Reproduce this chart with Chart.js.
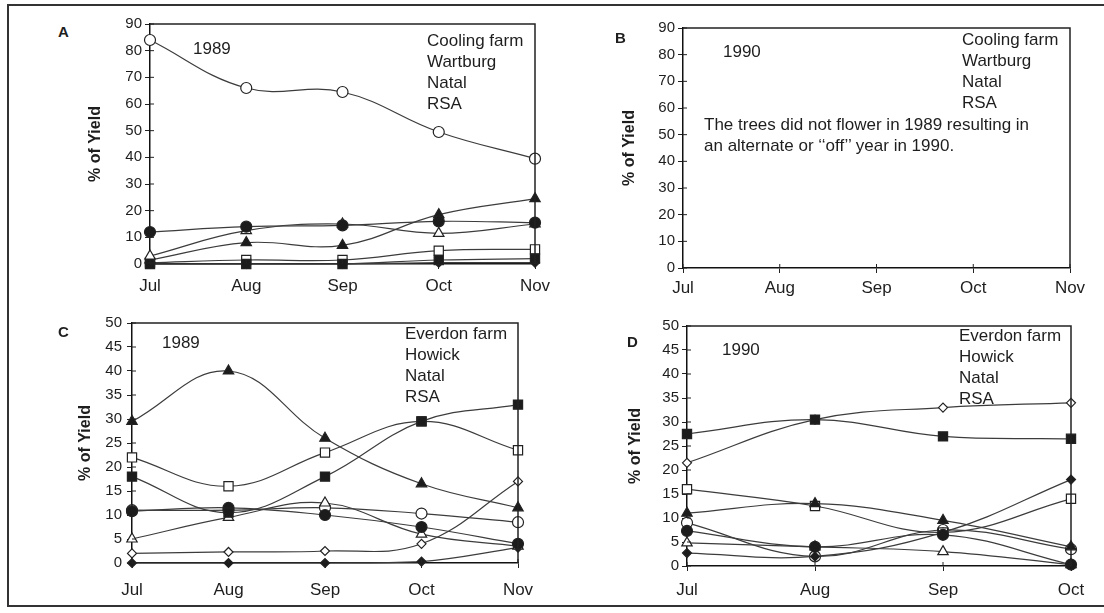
<!DOCTYPE html>
<html>
<head>
<meta charset="utf-8">
<title>% of Yield</title>
<script src="https://cdn.jsdelivr.net/npm/chart.js@4.4.0/dist/chart.umd.min.js"></script>
<style>
    body { margin: 0; background: #fff; font-family: "Liberation Sans", Arial, sans-serif; color: #1e1e1e; }
    #page { position: relative; width: 1104px; height: 613px; overflow: hidden; }
    #frame { position: absolute; left: 7px; top: 4px; width: 1120px; height: 603px; border: 2px solid #333; box-sizing: border-box; }
    canvas { position: absolute; }
    .txt { position: absolute; font-size: 17px; line-height: 21px; white-space: nowrap; }
    .letter { position: absolute; font-size: 15px; font-weight: bold; }
</style>
</head>
<body>
<div id="page">
    <div id="frame"></div>
    <canvas id="chartA"></canvas>
    <canvas id="chartB"></canvas>
    <canvas id="chartC"></canvas>
    <canvas id="chartD"></canvas>

    <div class="letter" style="left:58px; top:23px;">A</div>
    <div class="txt" style="left:193px; top:38px;">1989</div>
    <div class="txt" style="left:427px; top:30px;">Cooling farm<br>Wartburg<br>Natal<br>RSA</div>

    <div class="letter" style="left:615px; top:29px;">B</div>
    <div class="txt" style="left:723px; top:41px;">1990</div>
    <div class="txt" style="left:962px; top:29px;">Cooling farm<br>Wartburg<br>Natal<br>RSA</div>
    <div class="txt" style="left:704px; top:114px;">The trees did not flower in 1989 resulting in<br>an alternate or ‘‘off’’ year in 1990.</div>

    <div class="letter" style="left:58px; top:323px;">C</div>
    <div class="txt" style="left:162px; top:332px;">1989</div>
    <div class="txt" style="left:405px; top:323px;">Everdon farm<br>Howick<br>Natal<br>RSA</div>

    <div class="letter" style="left:627px; top:333px;">D</div>
    <div class="txt" style="left:722px; top:339px;">1990</div>
    <div class="txt" style="left:959px; top:325px;">Everdon farm<br>Howick<br>Natal<br>RSA</div>
</div>

<script>
// Monate (x-Achse)
const months = ['Jul', 'Aug', 'Sep', 'Oct', 'Nov'];
const monthsD = ['Jul', 'Aug', 'Sep', 'Oct'];

// y-Achsen Ticks
const yTicksAB = [0, 10, 20, 30, 40, 50, 60, 70, 80, 90];
const yTicksCD = [0, 5, 10, 15, 20, 25, 30, 35, 40, 45, 50];

// A: Cooling farm 1989
const a_openCircle     = [84, 66, 64.5, 49.5, 39.5];
const a_filledCircle   = [12, 14, 14.5, 16, 15.5];
const a_openTriangle   = [3, 12.5, 15, 11.5, 15];
const a_filledTriangle = [1.5, 8, 7, 18.5, 24.5];
const a_openSquare     = [0.5, 1.5, 1.5, 5, 5.5];
const a_filledSquare   = [0, 0, 0, 1.5, 2];
const a_filledDiamond  = [0, 0, 0, 0.5, 0.5];

// C: Everdon farm 1989
const c_filledTriangle = [29.5, 40, 26, 16.5, 11.5];
const c_openSquare     = [22, 16, 23, 29.5, 23.5];
const c_filledSquare   = [18, 10.5, 18, 29.5, 33];
const c_filledCircle   = [10.8, 11.5, 10, 7.5, 4];
const c_openTriangle   = [5, 9.5, 12.5, 6, 3.5];
const c_openCircle     = [11, 11, 11.5, 10.3, 8.5];
const c_openDiamond    = [2, 2.3, 2.5, 4, 17];
const c_filledDiamond  = [0, 0, 0, 0.3, 3.2];

// D: Everdon farm 1990
const d_openDiamond    = [21.5, 30.5, 33, 34];
const d_filledSquare   = [27.5, 30.5, 27, 26.5];
const d_openSquare     = [16, 12.5, 7, 14];
const d_filledTriangle = [11, 13, 9.5, 4];
const d_openCircle     = [9, 2, 7.5, 3.5];
const d_filledCircle   = [7.3, 4, 6.5, 0.3];
const d_openTriangle   = [4.8, 4, 3, 0.3];
const d_filledDiamond  = [2.7, 2, 7, 18];

// Marker-Groessen je Form
const radius = { circle: 5.5, triangle: 6, rect: 6.5, rectRot: 4.5 };

function series(data, shape, filled) {
    return {
        data: data,
        pointStyle: shape,
        pointRadius: radius[shape],
        pointHoverRadius: radius[shape],
        pointBackgroundColor: filled ? '#1c1c1c' : '#fff',
        pointBorderColor: '#222',
        pointBorderWidth: 1.2,
        borderColor: '#3c3c3c',
        borderWidth: 1.2,
        tension: 0.4,
        clip: false
    };
}

// Rahmen oben/rechts + innere Haelfte der Tick-Striche
const boxPlugin = {
    id: 'box',
    afterDraw(chart) {
        const ctx = chart.ctx;
        const a = chart.chartArea;
        const x = chart.scales.x;
        const y = chart.scales.y;
        ctx.save();
        ctx.strokeStyle = '#222';
        ctx.lineWidth = 1.5;
        ctx.beginPath();
        ctx.moveTo(a.left, a.top);
        ctx.lineTo(a.right, a.top);
        ctx.lineTo(a.right, a.bottom);
        ctx.stroke();
        ctx.lineWidth = 1;
        ctx.beginPath();
        y.ticks.forEach((t, i) => {
            const py = y.getPixelForTick(i);
            ctx.moveTo(a.left, py);
            ctx.lineTo(a.left + 4, py);
        });
        x.ticks.forEach((t, i) => {
            const px = x.getPixelForTick(i);
            ctx.moveTo(px, a.bottom);
            ctx.lineTo(px, a.bottom - 4);
        });
        ctx.stroke();
        ctx.restore();
    }
};

function makePanel(id, p) {
    const canvas = document.getElementById(id);
    const left = p.titleX - 20;
    const top = p.t - 14;
    const width = p.r + 28 - left;
    const height = p.b + 45 - top;
    canvas.style.left = left + 'px';
    canvas.style.top = top + 'px';
    canvas.width = width;
    canvas.height = height;

    new Chart(canvas, {
        type: 'line',
        data: { labels: p.labels, datasets: p.datasets },
        options: {
            responsive: false,
            animation: false,
            events: [],
            layout: { padding: { top: 14, right: 28, left: 0, bottom: 0 } },
            plugins: { legend: { display: false }, tooltip: { enabled: false } },
            scales: {
                x: {
                    offset: false,
                    grid: { drawOnChartArea: false, tickLength: 5, color: '#222' },
                    border: { color: '#111', width: 1.5 },
                    ticks: { font: { family: 'Liberation Sans', size: 17 }, color: '#1e1e1e', padding: p.xPad, maxRotation: 0 },
                    afterFit: s => { s.height = height - (p.b - top); }
                },
                y: {
                    min: p.yTicks[0],
                    max: p.yTicks[p.yTicks.length - 1],
                    ticks: { stepSize: p.yTicks[1] - p.yTicks[0], font: { family: 'Liberation Sans', size: 15 }, color: '#1e1e1e', padding: p.yPad },
                    grid: { drawOnChartArea: false, tickLength: 5, color: '#222' },
                    border: { color: '#111', width: 1.5 },
                    title: { display: true, text: '% of Yield', color: '#1e1e1e', font: { family: 'Liberation Sans', size: 16, weight: 'bold' }, padding: { top: 10.4, bottom: 0 } },
                    afterFit: s => { s.width = p.l - left; }
                }
            }
        },
        plugins: [boxPlugin]
    });
}

// Reihenfolge: erster Datensatz liegt oben
makePanel('chartA', {
    l: 150, t: 24, r: 535, b: 264, titleX: 96, xPad: 7, yPad: 3,
    labels: months, yTicks: yTicksAB,
    datasets: [
        series(a_openCircle, 'circle', false),
        series(a_filledCircle, 'circle', true),
        series(a_openTriangle, 'triangle', false),
        series(a_filledTriangle, 'triangle', true),
        series(a_filledSquare, 'rect', true),
        series(a_openSquare, 'rect', false),
        series(a_filledDiamond, 'rectRot', true)
    ]
});

makePanel('chartB', {
    l: 683, t: 28, r: 1070, b: 268, titleX: 630, xPad: 5, yPad: 3,
    labels: months, yTicks: yTicksAB,
    datasets: []
});

makePanel('chartC', {
    l: 132, t: 323, r: 518, b: 563, titleX: 86, xPad: 12, yPad: 5,
    labels: months, yTicks: yTicksCD,
    datasets: [
        series(c_filledTriangle, 'triangle', true),
        series(c_filledSquare, 'rect', true),
        series(c_openSquare, 'rect', false),
        series(c_filledCircle, 'circle', true),
        series(c_openTriangle, 'triangle', false),
        series(c_openCircle, 'circle', false),
        series(c_openDiamond, 'rectRot', false),
        series(c_filledDiamond, 'rectRot', true)
    ]
});

makePanel('chartD', {
    l: 687, t: 326, r: 1071, b: 566, titleX: 636, xPad: 9, yPad: 3,
    labels: monthsD, yTicks: yTicksCD,
    datasets: [
        series(d_filledSquare, 'rect', true),
        series(d_openDiamond, 'rectRot', false),
        series(d_filledCircle, 'circle', true),
        series(d_filledTriangle, 'triangle', true),
        series(d_openSquare, 'rect', false),
        series(d_filledDiamond, 'rectRot', true),
        series(d_openCircle, 'circle', false),
        series(d_openTriangle, 'triangle', false)
    ]
});
</script>
</body>
</html>
